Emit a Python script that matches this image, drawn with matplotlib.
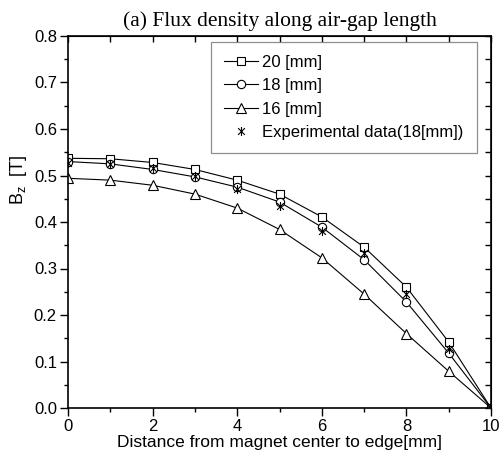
import numpy as np
import matplotlib
matplotlib.use('Agg')
import matplotlib.pyplot as plt
from matplotlib.path import Path

plt.rcParams['font.family'] = ['Liberation Sans', 'DejaVu Sans']
plt.rcParams['mathtext.default'] = 'regular'

# data
x = [0, 1, 2, 3, 4, 5, 6, 7, 8, 9, 10]
b20 = [0.537, 0.536, 0.528, 0.513, 0.490, 0.460, 0.411, 0.346, 0.260, 0.142, 0.0]
b18 = [0.530, 0.525, 0.513, 0.497, 0.475, 0.443, 0.389, 0.319, 0.228, 0.118, 0.0]
b16 = [0.494, 0.490, 0.479, 0.460, 0.430, 0.384, 0.323, 0.245, 0.160, 0.079, 0.0]
bexp = [0.526, 0.524, 0.517, 0.499, 0.470, 0.434, 0.380, 0.334, 0.246, 0.126, 0.0]
labels = ['20 [mm]', '18 [mm]', '16 [mm]', 'Experimental data(18[mm])']

# asterisk: vertical bar plus two diagonals
star = Path([(0, -1), (0, 1), (-0.75, -0.75), (0.75, 0.75), (-0.75, 0.75), (0.75, -0.75)],
            [Path.MOVETO, Path.LINETO, Path.MOVETO, Path.LINETO, Path.MOVETO, Path.LINETO])

fig = plt.figure(figsize=(5.01, 4.55), dpi=100)
ax = fig.add_axes([68/501, 1-408/455, 423/501, 372/455])

ax.plot(x, b20, 'k-', marker='s', mfc='white', ms=5.5, lw=0.8, mew=0.8, label=labels[0])
ax.plot(x, b18, 'k-', marker='o', mfc='white', ms=6, lw=0.8, mew=0.8, label=labels[1])
ax.plot(x, b16, 'k-', marker='^', mfc='white', ms=7, lw=0.8, mew=0.8, label=labels[2])
ax.plot(x, bexp, ls='none', color='k', marker=star, ms=6.5, mew=0.8, label=labels[3])

ax.set_xlim(0, 10)
ax.set_ylim(0, 0.8)
ax.set_xticks([0, 2, 4, 6, 8, 10])
ax.set_xticks([1, 3, 5, 7, 9], minor=True)
ax.set_yticks(np.arange(0, 0.81, 0.1))
ax.set_yticks(np.arange(0.05, 0.8, 0.1), minor=True)
ax.set_yticklabels(['0.0', '0.1', '0.2', '0.3', '0.4', '0.5', '0.6', '0.7', '0.8'])
ax.tick_params(which='major', direction='out', length=6, width=1, labelsize=12, pad=2)
ax.tick_params(which='minor', direction='out', length=3, width=1)
for s in ax.spines.values():
    s.set_linewidth(1.2)

top = ax.secondary_xaxis('top')
top.set_xticks(range(11))
top.tick_params(direction='in', length=4, width=1, labeltop=False)
right = ax.secondary_yaxis('right')
right.set_yticks(np.arange(0, 0.81, 0.05))
right.tick_params(direction='in', length=4, width=1, labelright=False)

ax.set_xlabel('Distance from magnet center to edge[mm]', fontsize=12.5, labelpad=1)
ax.set_ylabel('B$_z$  [T]', fontsize=13)
ax.yaxis.set_label_coords(-0.093, 0.613)
ax.set_title('(a) Flux density along air-gap length', fontsize=15.5,
             family='Liberation Serif', pad=7)

leg = ax.legend(loc='upper left', bbox_to_anchor=(0.338, 0.696, 0.629, 0.289),
                mode='expand', fontsize=12, frameon=True, fancybox=False,
                edgecolor='0.45', handlelength=2.0, handletextpad=0.25,
                labelspacing=0.5, borderpad=0.8, borderaxespad=0)
leg.get_frame().set_linewidth(0.9)

fig.savefig('out.png', dpi=100)
